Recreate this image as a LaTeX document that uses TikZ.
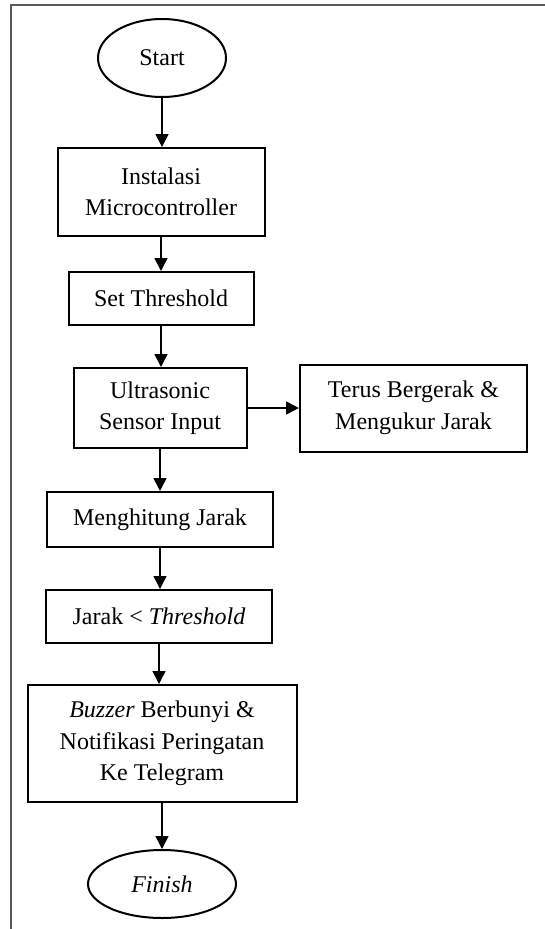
\documentclass[tikz,border=0pt]{standalone}
\usepackage{fontspec}
\setmainfont{Liberation Serif}
\usepackage{tikz}
\usetikzlibrary{shapes.geometric, arrows.meta, positioning}

\begin{document}
\begin{tikzpicture}[x=1pt, y=-1pt,
  every node/.style={font=\fontsize{24}{31.5}\selectfont, align=center},
  procbox/.style={draw, line width=2pt, inner sep=0pt},
  termnode/.style={draw, ellipse, line width=2pt, inner sep=0pt},
  flow/.style={-{Triangle[length=13pt, width=13pt]}, line width=1.5pt}]
  \useasboundingbox (0,0) rectangle (545,929);

  % Frame
  \draw[black!65, line width=2pt] (545,5) -- (11,5) -- (11,929);

  % Main flow
  \node[termnode, minimum width=128pt, minimum height=78pt] (start) at (162,58) {Start};
  \node[procbox, minimum width=207pt, minimum height=88pt] (inst) at (161,192) {Instalasi\\Microcontroller};
  \node[procbox, minimum width=185pt, minimum height=53pt] (thr) at (161,298.5) {Set Threshold};
  \node[procbox, minimum width=173pt, minimum height=80pt] (ultra) at (160,408) {Ultrasonic\\Sensor Input};
  \node[procbox, minimum width=226pt, minimum height=55pt] (hitung) at (160,519.5) {Menghitung Jarak};
  \node[procbox, minimum width=226pt, minimum height=53pt] (jarak) at (159,616.5) {Jarak \textless{} \textit{Threshold}};
  \node[procbox, minimum width=269pt, minimum height=117pt] (buzzer) at (162,743.5) {\textit{Buzzer} Berbunyi \&\\Notifikasi Peringatan\\Ke Telegram};
  \node[termnode, minimum width=148pt, minimum height=68pt] (finish) at (162,884) {\textit{Finish}};

  % Side branch
  \node[procbox, minimum width=227pt, minimum height=87pt] (terus) at (413.5,408) {Terus Bergerak \&\\Mengukur Jarak};

  % Connectors
  \draw[flow] (start) -- (start |- inst.north);
  \draw[flow] (inst) -- (inst |- thr.north);
  \draw[flow] (thr) -- (thr |- ultra.north);
  \draw[flow] (ultra) -- (terus);
  \draw[flow] (ultra) -- (ultra |- hitung.north);
  \draw[flow] (hitung) -- (hitung |- jarak.north);
  \draw[flow] (jarak) -- (jarak |- buzzer.north);
  \draw[flow] (buzzer) -- (buzzer |- finish.north);
\end{tikzpicture}
\end{document}
